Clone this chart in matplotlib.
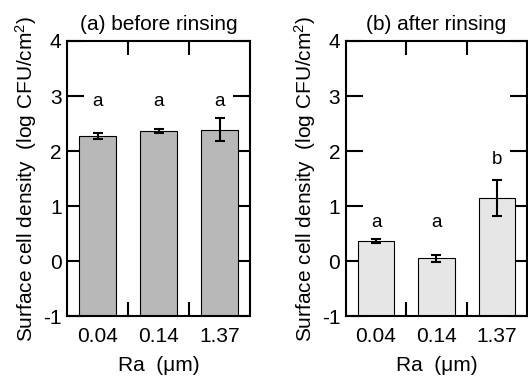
import numpy as np
import matplotlib
matplotlib.use('Agg')
import matplotlib.pyplot as plt

plt.rcParams['font.family'] = 'sans-serif'
plt.rcParams['font.sans-serif'] = ['Liberation Sans', 'DejaVu Sans']
plt.rcParams['font.size'] = 15
plt.rcParams['mathtext.fontset'] = 'custom'
plt.rcParams['mathtext.rm'] = 'Liberation Sans'

# Ra (um) categories
ra_labels = ["0.04", "0.14", "1.37"]

# (a) before rinsing
before_mean = [2.27, 2.36, 2.39]
before_err = [0.05, 0.04, 0.21]
before_letters = ["a", "a", "a"]
before_letter_y = [2.9, 2.9, 2.9]

# (b) after rinsing
after_mean = [0.37, 0.05, 1.15]
after_err = [0.04, 0.07, 0.33]
after_letters = ["a", "a", "b"]
after_letter_y = [0.71, 0.71, 1.85]

fig = plt.figure(figsize=(5.28, 3.76), dpi=100)
ax_a = fig.add_axes([0.127, 0.159, 0.347, 0.732])
ax_b = fig.add_axes([0.655, 0.159, 0.343, 0.732])


def panel(ax, means, errs, letters, letter_y, color, title):
    x = np.arange(1, len(means) + 1)
    # bars are drawn up from the bottom of the axis (-1)
    heights = [m + 1 for m in means]
    ax.bar(x, heights, width=0.6, bottom=-1, color=color, edgecolor='black', linewidth=0.8, zorder=2)
    ax.errorbar(x, means, yerr=errs, fmt='none', ecolor='black', elinewidth=1.5,
                capsize=3.5, capthick=1.5, zorder=3)
    for xi, t, yy in zip(x, letters, letter_y):
        ax.text(xi, yy, t, ha='center', va='center', fontsize=13.5)
    ax.set_xlim(0.5, 3.5)
    ax.set_ylim(-1, 4)
    ax.set_yticks([-1, 0, 1, 2, 3, 4])
    ax.set_yticklabels(["-1", "0", "1", "2", "3", "4"])
    ax.set_xticks(x)
    ax.set_xticklabels(ra_labels)
    ax.tick_params(axis='x', length=0, pad=8)
    ax.set_xticks([1.5, 2.5], minor=True)
    ax.tick_params(axis='x', which='minor', direction='in', length=10, width=1.5,
                   top=True, bottom=True)
    ax.tick_params(axis='y', direction='in', length=12, width=1.5, left=True, right=True, pad=4)
    for s in ax.spines.values():
        s.set_linewidth(1.5)
    ax.set_xlabel("Ra  (μm)", labelpad=7)
    ax.set_ylabel(r"Surface cell density  (log CFU/cm$^2$)", labelpad=3)
    ax.set_title(title, fontsize=15, pad=8)


panel(ax_a, before_mean, before_err, before_letters, before_letter_y, '#b8b8b8', "(a) before rinsing")
panel(ax_b, after_mean, after_err, after_letters, after_letter_y, '#e6e6e6', "(b) after rinsing")

fig.savefig('out.png', dpi=100)
